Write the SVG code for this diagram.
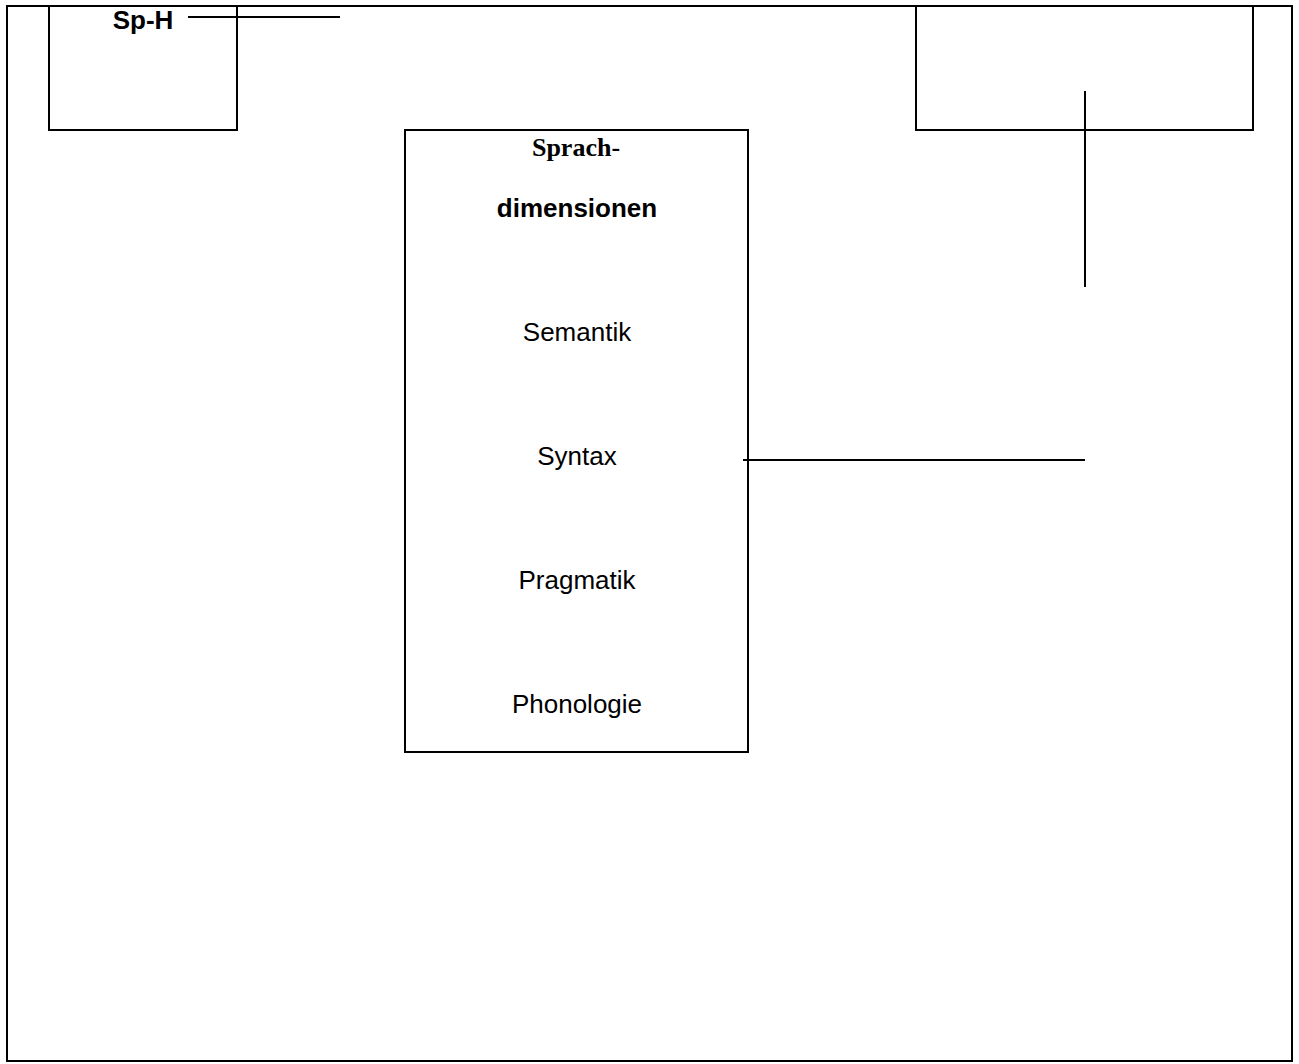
<svg xmlns="http://www.w3.org/2000/svg" width="1299" height="1064" viewBox="0 0 1299 1064">
<style>
.box{fill:none;stroke:#000;stroke-width:2}
.ln{stroke:#000;stroke-width:2;fill:none}
.t{font-family:"Liberation Sans",Arial,sans-serif;font-size:26px;fill:#000;text-anchor:middle}
.b{font-weight:bold}
.s{font-family:"Liberation Serif","Times New Roman",serif;font-size:26px;font-weight:bold;fill:#000;text-anchor:middle}
</style>
<rect width="1299" height="1064" fill="#fff"/>
<g id="frame"><rect class="box" x="7" y="6" width="1285" height="1055"/></g>
<g id="node-sph">
<path class="box" d="M49 6 V130 H237 V6"/>
<text class="t b" x="143" y="29">Sp-H</text>
</g>
<g id="node-right">
<path class="box" d="M916 6 V130 H1253 V6"/>
</g>
<g id="node-sprachdimensionen">
<rect class="box" x="405" y="130" width="343" height="622"/>
<text class="s" x="576" y="156">Sprach-</text>
<text class="t b" x="577" y="217">dimensionen</text>
<text class="t" x="577" y="341">Semantik</text>
<text class="t" x="577" y="465">Syntax</text>
<text class="t" x="577" y="589">Pragmatik</text>
<text class="t" x="577" y="713">Phonologie</text>
</g>
<g id="connectors">
<line class="ln" x1="188" y1="17" x2="340" y2="17"/>
<line class="ln" x1="1085" y1="91" x2="1085" y2="287"/>
<line class="ln" x1="743" y1="460" x2="1085" y2="460"/>
</g>
</svg>
